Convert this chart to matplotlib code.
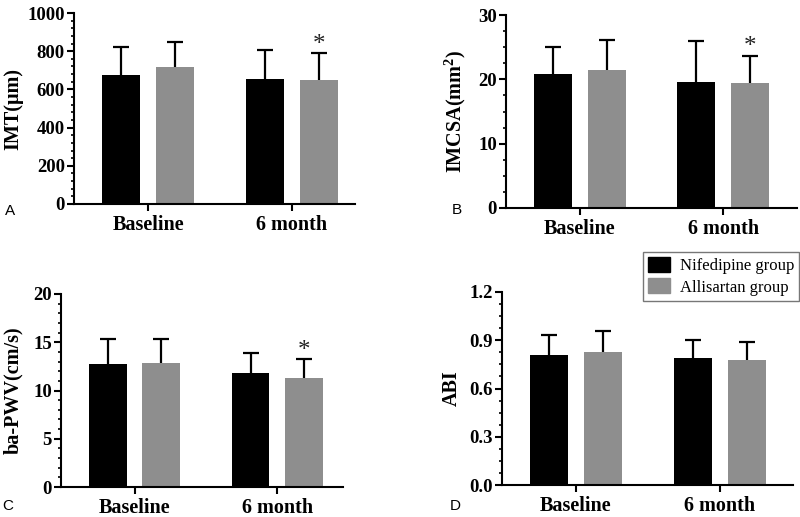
import matplotlib
matplotlib.use("Agg")
import matplotlib.pyplot as plt
import numpy as np
from matplotlib.patches import Patch
from matplotlib.ticker import MultipleLocator

plt.rcParams['font.family'] = ['Liberation Serif', 'DejaVu Serif']
plt.rcParams['mathtext.fontset'] = 'custom'
plt.rcParams['mathtext.rm'] = 'Liberation Serif:bold'
plt.rcParams['mathtext.it'] = 'Liberation Serif:bold'
plt.rcParams['mathtext.bf'] = 'Liberation Serif:bold'
plt.rcParams['mathtext.default'] = 'rm'

categories = ["Baseline", "6 month"]
series_names = ["Nifedipine group", "Allisartan group"]
colors = ["#000000", "#8e8e8e"]

# Panel A: IMT
imt_nif = [675, 656]
imt_nif_sd = [147, 150]
imt_all = [717, 648]
imt_all_sd = [129, 144]

# Panel B: IMCSA
imcsa_nif = [20.8, 19.6]
imcsa_nif_sd = [4.2, 6.3]
imcsa_all = [21.5, 19.5]
imcsa_all_sd = [4.6, 4.2]

# Panel C: ba-PWV
pwv_nif = [12.75, 11.85]
pwv_nif_sd = [2.55, 2.05]
pwv_all = [12.85, 11.3]
pwv_all_sd = [2.45, 1.95]

# Panel D: ABI
abi_nif = [0.81, 0.79]
abi_nif_sd = [0.12, 0.11]
abi_all = [0.83, 0.78]
abi_all_sd = [0.13, 0.11]

panels = [
    dict(letter="A", ylabel="IMT(μm)", nif=imt_nif, nsd=imt_nif_sd, al=imt_all, asd=imt_all_sd,
         ymax=1000, major=200, minor=40, fmt="{:.0f}", star=[False, True],
         pos=[74, 13, 355, 204], xr=1.44, lx=-0.181, lp=(10, 211)),
    dict(letter="B", ylabel="IMCSA(mm$^{2}$)", nif=imcsa_nif, nsd=imcsa_nif_sd, al=imcsa_all, asd=imcsa_all_sd,
         ymax=30, major=10, minor=2.5, fmt="{:.0f}", star=[False, True],
         pos=[506, 15, 797, 208], xr=1.515, lx=-0.132, lp=(457, 210)),
    dict(letter="C", ylabel="ba-PWV(cm/s)", nif=pwv_nif, nsd=pwv_nif_sd, al=pwv_all, asd=pwv_all_sd,
         ymax=20, major=5, minor=1, fmt="{:.0f}", star=[False, True],
         pos=[61, 294, 343, 487], xr=1.46, lx=-0.135, lp=(8, 506)),
    dict(letter="D", ylabel="ABI", nif=abi_nif, nsd=abi_nif_sd, al=abi_all, asd=abi_all_sd,
         ymax=1.2, major=0.3, minor=0.075, fmt="{:.1f}", star=[False, False],
         pos=[502, 292, 793, 485], xr=1.51, lx=-0.137, lp=(455, 506)),
]

W, H = 800, 517
fig = plt.figure(figsize=(8, 5.17), dpi=100)

x = np.arange(len(categories))
off = 0.1875
bw = 0.264

for p in panels:
    l, t, r, b = p["pos"]
    ax = fig.add_axes([l / W, 1 - b / H, (r - l) / W, (b - t) / H])
    for i, (vals, sds, c) in enumerate([(p["nif"], p["nsd"], colors[0]), (p["al"], p["asd"], colors[1])]):
        xs = x + (-off if i == 0 else off)
        ax.bar(xs, vals, width=bw, color=c, zorder=2)
        eb = ax.errorbar(xs, vals, yerr=[np.zeros(len(vals)), sds], fmt='none', ecolor='black',
                         elinewidth=1.6, capsize=6, capthick=1.6, zorder=3)
        for cl in eb[1]:
            if np.allclose(np.asarray(cl.get_ydata(), dtype=float), np.asarray(vals, dtype=float)):
                cl.set_visible(False)
        if i == 1:
            for j, s in enumerate(p["star"]):
                if s:
                    ax.annotate("*", (xs[j], vals[j] + sds[j]), xytext=(0, -2), textcoords='offset points',
                                ha='center', va='bottom', fontsize=18, color='#222222')
    ax.set_xlim(-0.515, p["xr"])
    ax.set_ylim(0, p["ymax"])
    ax.set_xticks(x)
    ax.set_xticklabels(categories, fontsize=14.5, fontweight='bold')
    ticks = np.arange(0, p["ymax"] + p["major"] / 2, p["major"])
    ax.set_yticks(ticks)
    ax.set_yticklabels([p["fmt"].format(v) for v in ticks], fontsize=13.5, fontweight='bold')
    ax.yaxis.set_minor_locator(MultipleLocator(p["minor"]))
    for s in ["top", "right"]:
        ax.spines[s].set_visible(False)
    for s in ["left", "bottom"]:
        ax.spines[s].set_linewidth(1.5)
    ax.tick_params(axis='both', which='major', length=5, width=1.5, pad=1.5)
    ax.tick_params(axis='x', which='major', pad=3)
    ax.tick_params(axis='y', which='minor', length=2.5, width=1.2)
    ax.set_ylabel(p["ylabel"], fontsize=14.5, fontweight='bold')
    ax.yaxis.set_label_coords(p["lx"], 0.5)
    fig.text(p["lp"][0] / W, 1 - p["lp"][1] / H, p["letter"], fontsize=11,
             family='Liberation Sans', ha='center', va='center')

handles = [Patch(facecolor=colors[0], edgecolor=colors[0]), Patch(facecolor=colors[1], edgecolor=colors[1])]
leg = fig.legend(handles, series_names, loc='upper right', bbox_to_anchor=(799 / W, 1 - 252 / H),
                 fontsize=12, frameon=True, fancybox=False, edgecolor='#555555',
                 handlelength=1.3, handleheight=1.0, handletextpad=0.6, borderpad=0.3,
                 labelspacing=0.25, borderaxespad=0)
leg.get_frame().set_linewidth(1.0)

fig.savefig("out.png", dpi=100)
